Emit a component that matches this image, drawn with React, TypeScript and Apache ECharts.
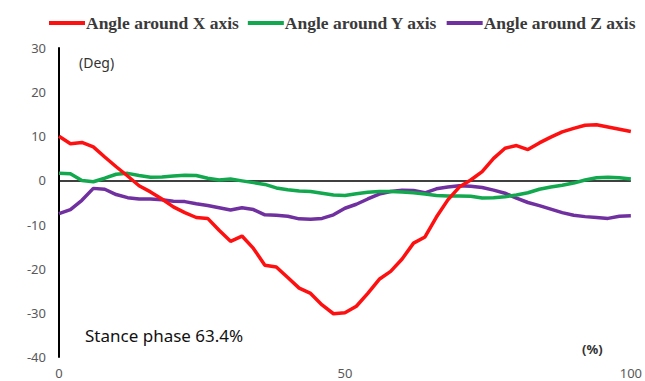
import React, { useEffect, useRef } from "react";
import * as echarts from "echarts";

const xPercent = [0, 2, 4, 6, 8, 10, 12, 14, 16, 18, 20, 22, 24, 26, 28, 30, 32, 34, 36, 38, 40, 42, 44, 46, 48, 50, 52, 54, 56, 58, 60, 62, 64, 66, 68, 70, 72, 74, 76, 78, 80, 82, 84, 86, 88, 90, 92, 94, 96, 98, 100];

const angleX = [10.0, 8.3, 8.6, 7.6, 5.3, 3.1, 1.0, -1.2, -2.6, -4.2, -6.0, -7.3, -8.4, -8.6, -11.3, -13.8, -12.6, -15.4, -19.2, -19.6, -22.0, -24.4, -25.6, -28.2, -30.2, -30.0, -28.5, -25.6, -22.4, -20.6, -17.8, -14.2, -12.8, -8.3, -4.4, -1.5, 0.1, 2.0, 5.0, 7.3, 7.9, 7.0, 8.5, 9.8, 11.0, 11.8, 12.5, 12.6, 12.1, 11.6, 11.1];

const angleY = [1.6, 1.5, 0.0, -0.3, 0.5, 1.4, 1.6, 1.1, 0.7, 0.8, 1.0, 1.2, 1.1, 0.5, 0.1, 0.3, -0.1, -0.5, -0.9, -1.7, -2.1, -2.4, -2.5, -2.9, -3.3, -3.4, -3.0, -2.7, -2.5, -2.5, -2.6, -2.8, -3.1, -3.4, -3.5, -3.5, -3.6, -4.0, -3.9, -3.7, -3.3, -2.8, -2.0, -1.5, -1.1, -0.6, 0.1, 0.6, 0.7, 0.6, 0.3];

const angleZ = [-7.5, -6.6, -4.5, -1.8, -2.0, -3.2, -3.9, -4.2, -4.2, -4.4, -4.7, -4.8, -5.3, -5.7, -6.2, -6.7, -6.2, -6.6, -7.8, -7.9, -8.1, -8.7, -8.8, -8.6, -7.8, -6.3, -5.4, -4.2, -3.1, -2.5, -2.2, -2.3, -2.8, -1.9, -1.5, -1.2, -1.3, -1.6, -2.2, -2.9, -4.0, -5.0, -5.7, -6.5, -7.3, -7.9, -8.2, -8.4, -8.6, -8.1, -8.0];

const seriesNames = ["Angle around X axis", "Angle around Y axis", "Angle around Z axis"];
const seriesColors = ["#ff1010", "#12a84e", "#7030a0"];
const yTicks = { min: -40, max: 30, interval: 10 };
const xTicks = { min: 0, max: 100, interval: 50 };

export default function App() {
  const ref = useRef<HTMLDivElement>(null);

  useEffect(() => {
    if (!ref.current) return;
    const chart = echarts.init(ref.current, null, { renderer: "svg" });
    const all = [angleX, angleY, angleZ];
    const series: any[] = all.map((vals, i) => ({
      name: seriesNames[i],
      type: "line",
      data: xPercent.map((x, j) => [x, vals[j]]),
      showSymbol: false,
      symbol: "none",
      lineStyle: { color: seriesColors[i], width: 3.5 },
      itemStyle: { color: seriesColors[i] },
      z: 3 + (2 - i),
    }));
    series[0].markLine = {
      silent: true,
      symbol: "none",
      label: { show: false },
      lineStyle: { color: "#000", width: 1.5, type: "solid" },
      data: [{ yAxis: 0 }],
      z: 1,
    };
    chart.setOption({
      animation: false,
      backgroundColor: "#fff",
      legend: {
        data: seriesNames.map((n, i) => ({ name: n, itemStyle: { color: seriesColors[i] } })),
        left: 44,
        top: 9,
        itemWidth: 36,
        itemHeight: 4,
        itemGap: 9,
        icon: "rect",
        textStyle: {
          fontFamily: "Liberation Serif",
          fontWeight: "bold",
          fontSize: 17.5,
          color: "#3a3a3a",
          padding: [0, 0, 0, -4],
        },
      },
      grid: { left: 59, right: 1, top: 48, bottom: 24, containLabel: false },
      xAxis: {
        type: "value",
        min: xTicks.min,
        max: xTicks.max,
        interval: xTicks.interval,
        axisLine: { show: false },
        axisTick: { show: false },
        splitLine: { show: false },
        axisLabel: { color: "#595959", fontSize: 13, fontFamily: "Noto Sans", margin: 9 },
      },
      yAxis: {
        type: "value",
        min: yTicks.min,
        max: yTicks.max,
        interval: yTicks.interval,
        axisLine: { show: true, lineStyle: { color: "#000", width: 2 } },
        axisTick: { show: false },
        splitLine: { show: false },
        axisLabel: { color: "#595959", fontSize: 13, fontFamily: "Noto Sans", margin: 13 },
      },
      graphic: [
        { type: "text", left: 79, top: 55, style: { text: "(Deg)", fontSize: 14, fontFamily: "Noto Sans", fill: "#333" } },
        { type: "text", left: 85, top: 327, style: { text: "Stance phase 63.4%", fontSize: 17, fontFamily: "Noto Sans", fill: "#111" } },
        { type: "text", left: 582, top: 342, style: { text: "(%)", fontSize: 13, fontFamily: "Noto Sans", fontWeight: "bold", fill: "#333" } },
      ],
      series,
    });
    return () => chart.dispose();
  }, []);

  return <div ref={ref} style={{ width: 645, height: 381, position: "absolute", left: 0, top: 0 }} />;
}
